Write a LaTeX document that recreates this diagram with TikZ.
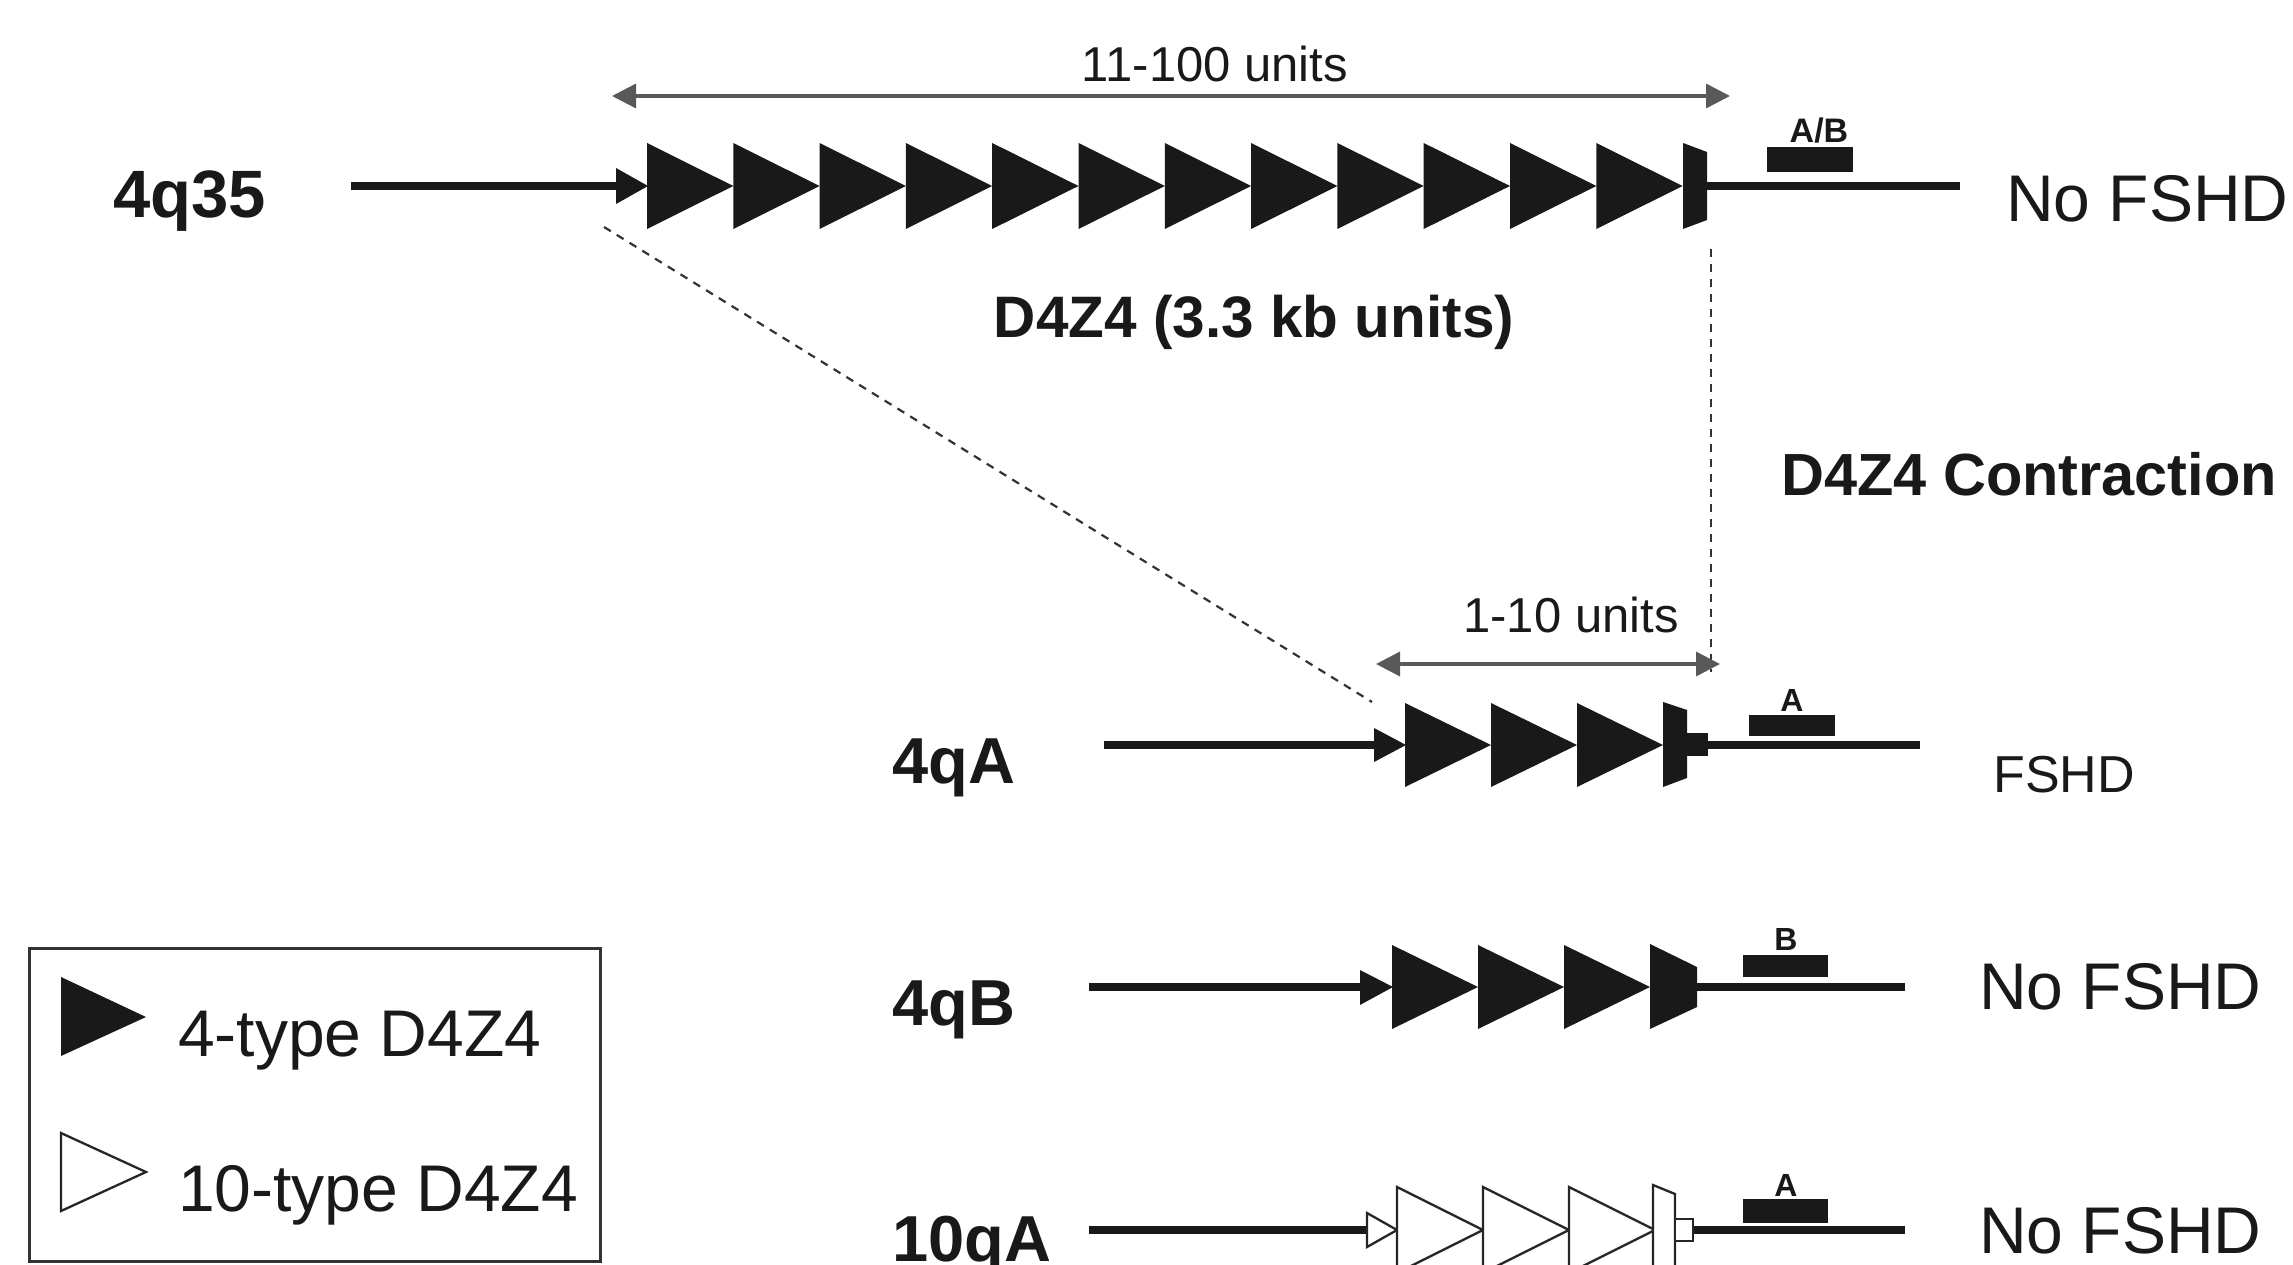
\documentclass[tikz,border=0pt]{standalone}
\usepackage{fontspec}
\setmainfont{Liberation Sans}
\usetikzlibrary{arrows.meta}
\newcommand\myfs[1]{\fontsize{#1}{#1}\selectfont}
\begin{document}
\begin{tikzpicture}[x=1pt,y=-1pt,
  chrom/.style={line width=8pt, black!90},
  dimline/.style={line width=3.5pt, black!65, {Triangle[length=24pt,width=24pt]}-{Triangle[length=24pt,width=24pt]}},
  dashlink/.style={line width=2.2pt, dash pattern=on 8pt off 7pt, black!80},
  unitfill/.style={fill=black!90},
  unitopen/.style={fill=white, draw=black!85, line width=2.3pt, line join=miter},
  probe/.style={fill=black!90},
  txt/.style={inner sep=0pt, anchor=base west, text=black!90},
  txtc/.style={inner sep=0pt, anchor=base, text=black!90},
  legbox/.style={draw=black!80, line width=3pt}
]
\useasboundingbox (0,0) rectangle (2293,1265);
\clip (0,0) rectangle (2293,1265);

% ---------------- 4q35 ----------------
\node[txt] (l4q35) at (113,218) {\myfs{67}\bfseries 4q35};
\coordinate (a0) at (351,186);
\coordinate (a1) at (620,186);
\coordinate (a2) at (1683,186);
\coordinate (a3) at (1960,186);
\draw[chrom] (a0) -- (a1);
\draw[chrom] (a2) -- (a3);
\fill[unitfill] (616,168) -- (648,186) -- (616,204) -- cycle;
\foreach \i in {0,...,11}
  \fill[unitfill] ({647+86.3*\i},143) -- ({733.3+86.3*\i},186) -- ({647+86.3*\i},229) -- cycle;
\fill[unitfill] (1683,143) -- (1707,152) -- (1707,220) -- (1683,229) -- cycle;
\fill[probe] (1767,147) rectangle (1853,172);
\node[txtc] (pab) at (1819,143) {\myfs{34}\bfseries A/B};
\node[txt] (n1) at (2006,222) {\myfs{66}No FSHD};

\coordinate (d1l) at (612,96);
\coordinate (d1r) at (1730,96);
\draw[dimline] (d1l) -- (d1r);
\node[txtc] (u1) at (1215,82) {\myfs{49}11-100 units};

\node[txtc] (d4z4) at (1254,337) {\myfs{58.5}\bfseries D4Z4 (3.3 kb units)};
\node[txt] (contr) at (1781,495) {\myfs{59.5}\bfseries D4Z4 Contraction};

% dashed links
\coordinate (s1) at (604,227);
\coordinate (e1) at (1372,702);
\coordinate (s2) at (1711,249);
\coordinate (e2) at (1711,672);
\draw[dashlink] (s1) -- (e1);
\draw[dashlink] (s2) -- (e2);

% ---------------- 4qA ----------------
\coordinate (d2l) at (1376,664);
\coordinate (d2r) at (1720,664);
\draw[dimline] (d2l) -- (d2r);
\node[txtc] (u2) at (1571,632) {\myfs{49}1-10 units};

\node[txt] (l4qA) at (892,783) {\myfs{65}\bfseries 4qA};
\coordinate (b0) at (1104,745);
\coordinate (b1) at (1378,745);
\coordinate (b2) at (1663,745);
\coordinate (b3) at (1920,745);
\draw[chrom] (b0) -- (b1);
\draw[chrom] (b2) -- (b3);
\fill[unitfill] (1374,728) -- (1406,745) -- (1374,762) -- cycle;
\foreach \i in {0,...,2}
  \fill[unitfill] ({1405+86*\i},703) -- ({1491+86*\i},745) -- ({1405+86*\i},787) -- cycle;
\fill[unitfill] (1663,702) -- (1687,710) -- (1687,778) -- (1663,787) -- cycle;
\fill[unitfill] (1686,733) rectangle (1708,756);
\fill[probe] (1749,715) rectangle (1835,736);
\node[txtc] (pa1) at (1792,711) {\myfs{32}\bfseries A};
\node[txt] (n2) at (1993,792) {\myfs{52}FSHD};

% ---------------- 4qB ----------------
\node[txt] (l4qB) at (892,1025) {\myfs{65}\bfseries 4qB};
\coordinate (c0) at (1089,987);
\coordinate (c1) at (1364,987);
\coordinate (c2) at (1650,987);
\coordinate (c3) at (1905,987);
\draw[chrom] (c0) -- (c1);
\draw[chrom] (c2) -- (c3);
\fill[unitfill] (1360,970) -- (1393,987) -- (1360,1005) -- cycle;
\foreach \i in {0,...,2}
  \fill[unitfill] ({1392+86*\i},945) -- ({1478+86*\i},987) -- ({1392+86*\i},1029) -- cycle;
\fill[unitfill] (1650,944) -- (1697,967) -- (1697,1007) -- (1650,1029) -- cycle;
\fill[probe] (1743,955) rectangle (1828,977);
\node[txtc] (pb) at (1786,950) {\myfs{32}\bfseries B};
\node[txt] (n3) at (1979,1009) {\myfs{66}No FSHD};

% ---------------- 10qA ----------------
\node[txt] (l10qA) at (892,1261) {\myfs{65}\bfseries 10qA};
\coordinate (f0) at (1089,1230);
\coordinate (f1) at (1370,1230);
\coordinate (f2) at (1653,1230);
\coordinate (f3) at (1905,1230);
\draw[chrom] (f0) -- (f1);
\draw[chrom] (f2) -- (f3);
\draw[unitopen] (1367,1213) -- (1397,1230) -- (1367,1247) -- cycle;
\foreach \i in {0,...,2}
  \draw[unitopen] ({1397+86*\i},1187) -- ({1483+86*\i},1230) -- ({1397+86*\i},1273) -- cycle;
\draw[unitopen] (1653,1185) -- (1675,1194) -- (1675,1266) -- (1653,1275) -- cycle;
\draw[unitopen] (1675,1219) rectangle (1693,1241);
\fill[probe] (1743,1199) rectangle (1828,1223);
\node[txtc] (pa2) at (1786,1196) {\myfs{32}\bfseries A};
\node[txt] (n4) at (1979,1253) {\myfs{66}No FSHD};

% ---------------- legend ----------------
\draw[legbox] (29,948) rectangle (600,1261);
\fill[unitfill] (61,977) -- (146,1017) -- (61,1056) -- cycle;
\node[txt] (leg1) at (178,1056) {\myfs{66}4-type D4Z4};
\draw[unitopen] (61,1133) -- (146,1172) -- (61,1211) -- cycle;
\node[txt] (leg2) at (178,1211) {\myfs{66}10-type D4Z4};
\end{tikzpicture}
\end{document}
